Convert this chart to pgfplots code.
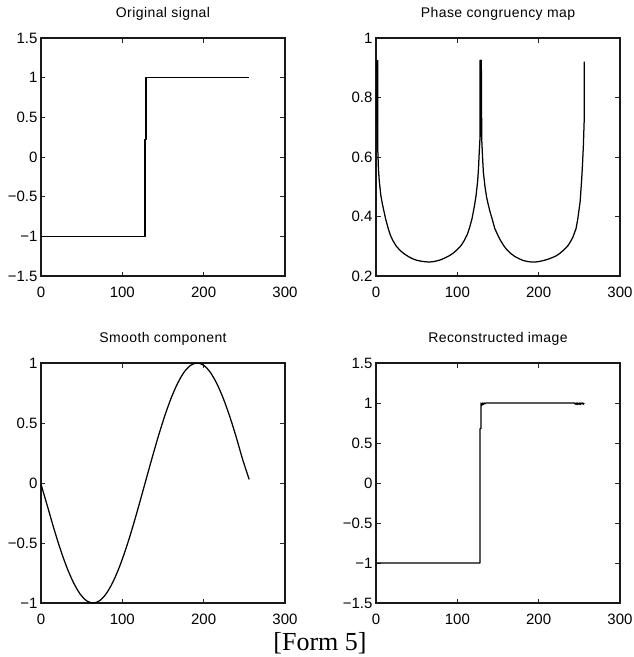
\documentclass[border=0pt]{standalone}
\usepackage{fontspec}
\setmainfont{Liberation Sans}
\newfontfamily\titlefont[LetterSpace=3]{Liberation Sans}
\newfontfamily\capfont{Liberation Serif}
\usepackage{pgfplots}
\pgfplotsset{compat=1.18}
\pgfplotsset{
  mstyle/.style={
    scale only axis,
    width=244pt,
    xmin=0, xmax=300,
    xtick={0,100,200,300},
    xticklabels={0,100,200,300},
    axis line style={black!90, line width=1.2pt},
    major tick length=4.5pt,
    tick style={black!85, line width=0.9pt},
    tick label style={font=\fontsize{15}{18}\selectfont},
    xticklabel style={yshift=-7pt},
    title style={at={(0.5,1)}, anchor=base, yshift=15pt, font=\titlefont\fontsize{14}{16}\selectfont},
  },
  dline/.style={draw=black, line width=1.25pt, no marks, line join=round},
}
\begin{document}
\begin{tikzpicture}
\useasboundingbox (0,0) rectangle (634pt,-657pt);
% Top-left
\begin{axis}[mstyle, at={(41pt,-276pt)}, anchor=south west, height=238pt,
  ymin=-1.5, ymax=1.5, ytick={-1.5,-1,-0.5,0,0.5,1,1.5},
  yticklabels={−1.5,−1,−0.5,0,0.5,1,1.5},
  title={Original signal}]
\addplot[dline] coordinates {(1,-1) (128,-1) (128,0.22) (129,0.22) (129,1) (256,1)};
\end{axis}
% Top-right
\begin{axis}[mstyle, at={(376pt,-276pt)}, anchor=south west, height=238pt,
  ymin=0.2, ymax=1, ytick={0.2,0.4,0.6,0.8,1},
  yticklabels={0.2,0.4,0.6,0.8,1},
  title={Phase congruency map}]
\addplot[dline] coordinates {
(1,0.925) (1.5,0.64) (2,0.925) (2,0.64) (3,0.56) (4,0.52) (6,0.47) (8,0.44) (10,0.415) (12,0.39)
(15,0.36) (18,0.335) (21,0.318) (25,0.300) (30,0.285) (35,0.274) (40,0.265) (45,0.258)
(50,0.253) (55,0.250) (60,0.248) (65,0.247) (70,0.248) (75,0.251) (80,0.255) (85,0.261)
(90,0.268) (95,0.277) (100,0.289) (104,0.300) (108,0.317) (112,0.338) (115,0.362)
(118,0.392) (121,0.435) (123,0.47) (125,0.52) (126,0.56) (127,0.62) (128,0.67)
(128,0.925) (129,0.925) (129,0.67) (129.5,0.925) (130,0.66) (131,0.60) (132,0.55) (134,0.50) (136,0.465)
(138,0.44) (140,0.418) (143,0.39) (146,0.36) (149,0.342) (153,0.32) (157,0.302)
(161,0.288) (166,0.275) (171,0.265) (176,0.258) (181,0.252) (186,0.249) (191,0.247)
(196,0.247) (201,0.249) (206,0.252) (211,0.256) (216,0.261) (221,0.267) (225,0.274)
(229,0.283) (233,0.293) (236,0.302) (239,0.315) (242,0.33) (244,0.345) (246,0.36)
(248,0.39) (250,0.43) (251,0.45) (252,0.49) (253,0.53) (254,0.58) (255,0.64)
(256,0.725) (256,0.921)};
\end{axis}
% Bottom-left
\begin{axis}[mstyle, at={(41pt,-603pt)}, anchor=south west, height=240pt,
  ymin=-1, ymax=1, ytick={-1,-0.5,0,0.5,1},
  yticklabels={−1,−0.5,0,0.5,1},
  title={Smooth component}]
\addplot[dline, smooth] coordinates {
(0,-0.01) (8,-0.195) (16,-0.383) (24,-0.556) (32,-0.707) (40,-0.831) (48,-0.924)
(56,-0.981) (64,-1.0) (72,-0.981) (80,-0.924) (88,-0.831) (96,-0.707) (104,-0.556)
(112,-0.383) (120,-0.195) (128,0.0) (136,0.195) (144,0.383) (152,0.556) (160,0.707)
(168,0.831) (176,0.924) (184,0.981) (192,1.0) (200,0.981) (208,0.924) (216,0.831)
(224,0.707) (232,0.556) (240,0.383) (248,0.195) (256,0.03)};
\end{axis}
% Bottom-right
\begin{axis}[mstyle, at={(376pt,-603pt)}, anchor=south west, height=240pt,
  ymin=-1.5, ymax=1.5, ytick={-1.5,-1,-0.5,0,0.5,1,1.5},
  yticklabels={−1.5,−1,−0.5,0,0.5,1,1.5},
  title={Reconstructed image}]
\addplot[dline] coordinates {(1,-1) (128,-1) (128,0.68) (129,0.68) (129,1.0) (130,0.97) (131,1.0)
(132,0.98) (133,1.0) (134,0.99) (135,1.0) (244,1.0) (245,0.985) (246,1.0) (247,0.98)
(248,1.0) (249,0.985) (250,1.0) (251,0.98) (252,1.0) (253,0.99) (254,1.0) (255,0.985) (256,1.0)};
\end{axis}
\node[anchor=base, font=\capfont\fontsize{26}{30}\selectfont, inner sep=0pt] at (320pt,-650pt) {[Form 5]};
\end{tikzpicture}
\end{document}
